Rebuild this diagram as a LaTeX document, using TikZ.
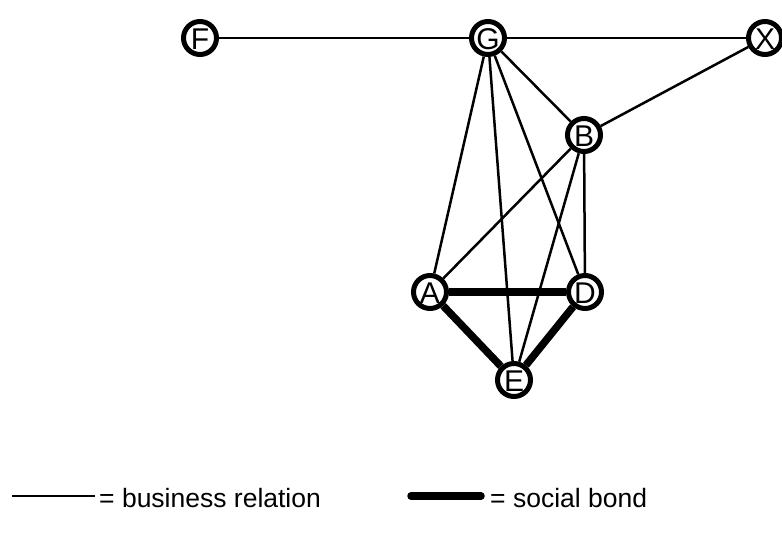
\documentclass[tikz,border=0pt]{standalone}
\usepackage{fontspec}
\setmainfont{Liberation Sans}
\begin{document}
\begin{tikzpicture}[x=1pt,y=-1pt,
  actor/.style={circle,draw,line width=5pt,minimum size=33pt,inner sep=0pt,fill=white},
  letter/.style={font=\fontsize{30}{30}\selectfont,inner sep=0pt,yshift=-1.5pt},
  business/.style={line width=2.5pt},
  social/.style={line width=7.5pt},
  legendtext/.style={anchor=west,inner sep=0pt,font=\fontsize{26.5}{26.5}\selectfont},
]
\useasboundingbox (0,0) rectangle (782,536);

% actors
\node[actor,label={[letter]center:F}] (F) at (200,38) {};
\node[actor,label={[letter]center:G}] (G) at (488,38) {};
\node[actor,label={[letter]center:X}] (X) at (765,38) {};
\node[actor,label={[letter]center:B}] (B) at (584,135) {};
\node[actor,label={[letter]center:A}] (A) at (430,292) {};
\node[actor,label={[letter]center:D}] (D) at (585,292) {};
\node[actor,label={[letter]center:E}] (E) at (514,380) {};

% business relations
\draw[business] (F) -- (G);
\draw[business] (G) -- (X);
\draw[business] (X) -- (B);
\draw[business] (G) -- (B);
\draw[business] (G) -- (A);
\draw[business] (G) -- (E);
\draw[business] (G) -- (D);
\draw[business] (B) -- (A);
\draw[business] (B) -- (E);
\draw[business] (B) -- (D);

% social bonds
\draw[social] (A) -- (D);
\draw[social] (A) -- (E);
\draw[social] (D) -- (E);

% legend
\coordinate (b1) at (12,496);
\coordinate (b2) at (95,496);
\draw[business] (b1) -- (b2);
\node[legendtext] (bt) at (99,498) {= business relation};
\coordinate (s1) at (411,496);
\coordinate (s2) at (481,496);
\draw[social,line cap=round] (s1) -- (s2);
\node[legendtext] (st) at (490,498) {= social bond};
\end{tikzpicture}
\end{document}
